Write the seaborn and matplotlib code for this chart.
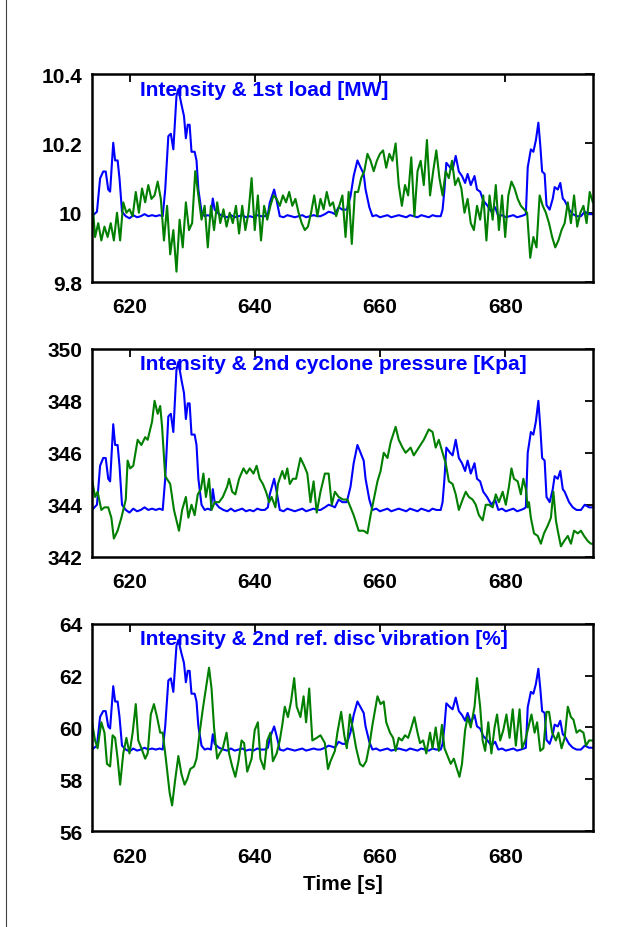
import numpy as np
import pandas as pd
import matplotlib
matplotlib.use("Agg")
import matplotlib.pyplot as plt
import seaborn as sns
from matplotlib.lines import Line2D
from matplotlib.ticker import FuncFormatter

# time stamps of the intensity trace (shared by all panels)
t_int = [614.0, 614.8, 615.3, 615.8, 616.2, 616.6, 616.9, 617.4, 617.7, 618.1,
         618.4, 618.8, 619.4, 620.0, 620.6, 621.2, 621.8, 622.4, 623.0, 623.6,
         624.2, 624.8, 625.3, 625.7, 626.2, 626.6, 627.0, 627.5, 627.8, 628.3,
         628.7, 629.0, 629.3, 629.6, 629.9, 630.4, 630.7, 631.0, 631.5, 632.0,
         632.5, 633.0, 633.3, 633.6, 634.3, 635.0, 635.6, 636.2, 636.8, 637.4,
         638.0, 638.6, 639.2, 639.8, 640.4, 641.0, 641.6, 642.1, 642.4, 643.1,
         643.5, 644.0, 644.6, 645.2, 645.8, 646.4, 647.0, 647.6, 648.2, 648.8,
         649.4, 650.0, 650.5, 651.2, 651.8, 652.4, 652.8, 653.4, 654.0, 654.7,
         655.3, 655.8, 656.4, 656.9, 657.4, 657.7, 658.3, 658.8, 659.4, 660.0,
         660.6, 661.2, 661.8, 662.4, 663.0, 663.6, 664.2, 664.8, 665.4, 666.0,
         666.6, 667.2, 667.8, 668.4, 669.0, 669.7, 670.0, 670.3, 670.6, 671.2,
         671.6, 672.1, 672.6, 673.1, 673.6, 674.0, 674.5, 675.1, 675.5, 676.0,
         676.5, 677.1, 677.8, 678.4, 678.9, 679.5, 680.1, 680.7, 681.3, 681.9,
         682.5, 683.0, 683.3, 683.6, 684.1, 684.5, 684.9, 685.3, 685.6, 685.9,
         686.3, 686.6, 687.1, 687.6, 687.9, 688.4, 688.8, 689.2, 689.5, 690.2,
         690.8, 691.4, 692.1, 692.7, 693.4, 694.0]

# intensity drawn on the load axis [MW]
int_load = [9.990, 10.003, 10.099, 10.119, 10.119, 10.067, 10.061, 10.202, 10.151, 10.151,
            10.099, 10.003, 9.990, 9.984, 9.993, 9.987, 9.990, 9.996, 9.990, 9.993,
            9.990, 9.993, 9.990, 10.067, 10.221, 10.228, 10.183, 10.337, 10.357, 10.312,
            10.279, 10.215, 10.254, 10.254, 10.176, 10.176, 10.151, 10.067, 10.003, 9.990,
            9.993, 9.990, 10.041, 10.009, 9.996, 9.990, 9.987, 9.993, 9.987, 9.990,
            9.993, 9.987, 9.990, 9.987, 9.993, 9.990, 9.990, 9.996, 10.029, 10.067,
            10.035, 9.990, 9.987, 9.993, 9.990, 9.987, 9.990, 9.993, 9.987, 9.990,
            9.993, 9.990, 9.990, 9.996, 10.003, 10.000, 9.996, 10.016, 10.009, 10.009,
            10.048, 10.106, 10.151, 10.131, 10.112, 10.067, 10.016, 9.990, 9.993, 9.987,
            9.990, 9.993, 9.987, 9.990, 9.993, 9.990, 9.987, 9.993, 9.990, 9.987,
            9.993, 9.990, 9.987, 9.993, 9.990, 9.990, 10.009, 10.067, 10.144, 10.131,
            10.125, 10.164, 10.119, 10.106, 10.086, 10.112, 10.080, 10.106, 10.067, 10.061,
            10.035, 10.022, 10.003, 10.016, 9.990, 9.993, 9.987, 9.990, 9.993, 9.987,
            9.990, 9.993, 9.996, 10.131, 10.183, 10.176, 10.209, 10.260, 10.196, 10.119,
            10.112, 10.022, 10.009, 10.041, 10.074, 10.067, 10.086, 10.041, 10.035, 10.009,
            9.996, 9.990, 9.990, 10.003, 9.996, 9.996]

# intensity drawn on the cyclone pressure axis [Kpa]
int_press = [343.8, 344.0, 345.5, 345.8, 345.8, 345.0, 344.9, 347.1, 346.3, 346.3,
             345.5, 344.0, 343.8, 343.7, 343.85, 343.75, 343.8, 343.9, 343.8, 343.85,
             343.8, 343.85, 343.8, 345.0, 347.4, 347.5, 346.8, 349.2, 349.5, 348.8,
             348.3, 347.3, 347.9, 347.9, 346.7, 346.7, 346.3, 345.0, 344.0, 343.8,
             343.85, 343.8, 344.6, 344.1, 343.9, 343.8, 343.75, 343.85, 343.75, 343.8,
             343.85, 343.75, 343.8, 343.75, 343.85, 343.8, 343.8, 343.9, 344.4, 345.0,
             344.5, 343.8, 343.75, 343.85, 343.8, 343.75, 343.8, 343.85, 343.75, 343.8,
             343.85, 343.8, 343.8, 343.9, 344.0, 343.95, 343.9, 344.2, 344.1, 344.1,
             344.7, 345.6, 346.3, 346.0, 345.7, 345.0, 344.2, 343.8, 343.85, 343.75,
             343.8, 343.85, 343.75, 343.8, 343.85, 343.8, 343.75, 343.85, 343.8, 343.75,
             343.85, 343.8, 343.75, 343.85, 343.8, 343.8, 344.1, 345.0, 346.2, 346.0,
             345.9, 346.5, 345.8, 345.6, 345.3, 345.7, 345.2, 345.6, 345.0, 344.9,
             344.5, 344.3, 344.0, 344.2, 343.8, 343.85, 343.75, 343.8, 343.85, 343.75,
             343.8, 343.85, 343.9, 346.0, 346.8, 346.7, 347.2, 348.0, 347.0, 345.8,
             345.7, 344.3, 344.1, 344.6, 345.1, 345.0, 345.3, 344.6, 344.5, 344.1,
             343.9, 343.8, 343.8, 344.0, 343.9, 343.9]

# intensity drawn on the disc vibration axis [%]
int_vib = [59.15, 59.30, 60.41, 60.63, 60.63, 60.04, 59.96, 61.59, 61.00, 61.00,
           60.41, 59.30, 59.15, 59.08, 59.19, 59.11, 59.15, 59.22, 59.15, 59.19,
           59.15, 59.19, 59.15, 60.04, 61.81, 61.89, 61.37, 63.15, 63.37, 62.85,
           62.48, 61.74, 62.18, 62.18, 61.30, 61.30, 61.00, 60.04, 59.30, 59.15,
           59.19, 59.15, 59.74, 59.37, 59.22, 59.15, 59.11, 59.19, 59.11, 59.15,
           59.19, 59.11, 59.15, 59.11, 59.19, 59.15, 59.15, 59.22, 59.59, 60.04,
           59.67, 59.15, 59.11, 59.19, 59.15, 59.11, 59.15, 59.19, 59.11, 59.15,
           59.19, 59.15, 59.15, 59.22, 59.30, 59.26, 59.22, 59.45, 59.37, 59.37,
           59.82, 60.48, 61.00, 60.78, 60.56, 60.04, 59.45, 59.15, 59.19, 59.11,
           59.15, 59.19, 59.11, 59.15, 59.19, 59.15, 59.11, 59.19, 59.15, 59.11,
           59.19, 59.15, 59.11, 59.19, 59.15, 59.15, 59.37, 60.04, 60.93, 60.78,
           60.70, 61.15, 60.63, 60.48, 60.26, 60.56, 60.19, 60.48, 60.04, 59.96,
           59.67, 59.52, 59.30, 59.45, 59.15, 59.19, 59.11, 59.15, 59.19, 59.11,
           59.15, 59.19, 59.22, 60.78, 61.37, 61.30, 61.67, 62.26, 61.52, 60.63,
           60.56, 59.52, 59.37, 59.74, 60.11, 60.04, 60.26, 59.74, 59.67, 59.37,
           59.22, 59.15, 59.15, 59.30, 59.22, 59.22]

# 1st load [MW]
t_load = [614.0, 614.5, 615.0, 615.5, 616.0, 616.5, 617.0, 617.5, 618.0, 618.5,
          619.0, 619.5, 620.0, 620.5, 621.0, 621.5, 622.0, 622.5, 623.0, 623.5,
          624.0, 624.5, 625.0, 625.5, 626.0, 626.5, 627.0, 627.5, 628.0, 628.5,
          629.0, 629.5, 630.0, 630.5, 631.0, 631.5, 632.0, 632.5, 633.0, 633.5,
          634.0, 634.5, 635.0, 635.5, 636.0, 636.5, 637.0, 637.5, 638.0, 638.5,
          639.0, 639.5, 640.0, 640.5, 641.0, 641.5, 642.0, 642.5, 643.0, 643.5,
          644.0, 644.5, 645.0, 645.5, 646.0, 646.5, 647.0, 647.5, 648.0, 648.5,
          649.0, 649.5, 650.0, 650.5, 651.0, 651.5, 652.0, 652.5, 653.0, 653.5,
          654.0, 654.5, 655.0, 655.5, 656.0, 656.5, 657.0, 657.5, 658.0, 658.5,
          659.0, 659.5, 660.0, 660.5, 661.0, 661.5, 662.0, 662.5, 663.0, 663.5,
          664.0, 664.5, 665.0, 665.5, 666.0, 666.5, 667.0, 667.5, 668.0, 668.5,
          669.0, 669.5, 670.0, 670.5, 671.0, 671.5, 672.0, 672.5, 673.0, 673.5,
          674.0, 674.5, 675.0, 675.5, 676.0, 676.5, 677.0, 677.5, 678.0, 678.5,
          679.0, 679.5, 680.0, 680.5, 681.0, 681.5, 682.0, 682.5, 683.0, 683.5,
          684.0, 684.5, 685.0, 685.5, 686.0, 686.5, 687.0, 687.5, 688.0, 688.5,
          689.0, 689.5, 690.0, 690.5, 691.0, 691.5, 692.0, 692.5, 693.0, 693.5,
          694.0]
load = [10.05, 9.93, 9.97, 9.92, 9.96, 9.93, 9.97, 9.92, 10.00, 9.92,
        10.03, 10.00, 10.01, 9.99, 10.06, 10.00, 10.07, 10.03, 10.08, 10.04,
        10.05, 10.09, 10.04, 9.92, 10.02, 9.88, 9.95, 9.83, 9.98, 9.90,
        10.03, 9.95, 9.97, 10.12, 10.05, 9.98, 10.02, 9.90, 10.02, 9.95,
        10.03, 9.97, 10.01, 9.96, 10.00, 9.97, 10.02, 9.94, 10.02, 9.95,
        10.00, 10.10, 9.95, 10.05, 9.92, 10.02, 9.98, 10.02, 10.05, 10.04,
        10.02, 10.05, 10.03, 10.06, 10.02, 10.04, 10.00, 9.97, 9.95, 9.96,
        10.00, 10.05, 9.99, 10.04, 10.01, 10.06, 10.02, 10.03, 9.99, 10.02,
        10.05, 9.93, 10.06, 9.91, 10.06, 10.06, 10.10, 10.12, 10.17, 10.15,
        10.12, 10.15, 10.17, 10.18, 10.13, 10.17, 10.15, 10.20, 10.08, 10.02,
        10.08, 10.05, 10.16, 9.99, 10.12, 10.15, 10.08, 10.21, 10.05, 10.12,
        10.18, 10.10, 10.05, 10.12, 10.10, 10.15, 10.08, 10.10, 10.07, 10.00,
        10.04, 9.97, 9.95, 10.02, 9.98, 10.05, 9.92, 10.05, 9.98, 10.08,
        9.95, 10.05, 9.93, 10.05, 10.09, 10.07, 10.04, 10.02, 10.01, 10.00,
        9.87, 9.93, 9.90, 10.05, 10.02, 10.00, 9.97, 9.93, 9.90, 9.92,
        9.95, 9.97, 10.03, 9.97, 10.05, 9.96, 10.00, 10.02, 9.97, 10.06,
        10.03]

# 2nd cyclone pressure [Kpa]
t_press = [614.0, 614.5, 614.9, 615.5, 616.0, 616.6, 617.1, 617.5, 618.1, 618.7,
           619.4, 619.7, 620.1, 620.6, 621.3, 621.9, 622.5, 622.9, 623.6, 624.0,
           624.5, 624.9, 625.2, 625.7, 626.5, 627.1, 627.9, 628.4, 629.0, 629.4,
           629.9, 630.4, 630.9, 631.4, 631.8, 632.2, 632.7, 633.1, 633.6, 634.3,
           634.9, 635.6, 635.9, 636.4, 636.9, 637.5, 638.2, 638.7, 639.2, 639.8,
           640.3, 640.8, 641.3, 641.8, 642.3, 642.7, 643.3, 643.7, 644.4, 644.8,
           645.2, 645.6, 646.1, 646.6, 647.3, 647.9, 648.4, 648.9, 649.4, 649.9,
           650.5, 651.2, 651.8, 652.3, 652.8, 653.4, 654.1, 654.8, 655.3, 655.8,
           656.6, 657.4, 658.0, 658.5, 659.0, 659.6, 660.1, 660.6, 661.2, 661.7,
           662.5, 663.0, 663.6, 664.1, 664.9, 665.4, 666.2, 667.0, 667.8, 668.4,
           668.9, 669.4, 670.0, 670.5, 671.0, 671.6, 672.1, 672.6, 673.2, 673.7,
           674.2, 674.8, 675.3, 675.8, 676.4, 676.9, 677.4, 678.0, 678.5, 679.0,
           679.6, 680.1, 680.6, 681.0, 681.4, 682.0, 682.5, 682.9, 683.3, 683.6,
           683.8, 684.1, 684.6, 685.2, 685.7, 686.2, 686.8, 687.3, 687.7, 688.1,
           688.4, 688.9, 689.4, 690.0, 690.5, 691.0, 691.6, 692.1, 692.6, 693.2,
           693.7, 694.0]
press = [345.0, 344.3, 344.5, 343.8, 343.9, 343.9, 343.5, 342.7, 343.0, 343.5,
         344.2, 345.7, 345.4, 345.5, 346.5, 346.3, 346.6, 346.5, 347.2, 348.0,
         347.5, 347.8, 347.0, 345.1, 344.8, 343.8, 343.0, 343.8, 344.3, 343.5,
         344.0, 343.6, 344.4, 344.6, 345.2, 344.3, 345.0, 343.8, 344.1, 344.1,
         344.3, 344.7, 345.0, 344.5, 344.4, 345.0, 345.4, 345.2, 345.4, 345.2,
         345.5, 345.0, 344.8, 344.5, 344.1, 344.3, 343.9, 344.8, 345.3, 345.0,
         345.4, 344.8, 345.0, 345.0, 345.8, 345.5, 345.2, 344.1, 344.9, 343.7,
         344.5, 345.2, 345.2, 344.0, 344.5, 344.3, 344.2, 344.2, 343.9, 343.6,
         343.0, 343.0, 342.9, 343.6, 344.2, 344.9, 345.3, 346.0, 345.8, 346.4,
         347.0, 346.5, 346.2, 346.0, 346.2, 345.9, 346.2, 346.5, 346.9, 346.8,
         346.2, 346.5, 346.0, 345.6, 344.9, 344.8, 344.4, 343.8, 344.2, 344.5,
         344.3, 344.2, 344.0, 343.6, 343.4, 344.0, 344.0, 343.9, 344.4, 344.1,
         344.5, 344.0, 344.7, 345.4, 345.0, 344.9, 344.4, 345.0, 344.6, 343.9,
         344.1, 343.5, 342.9, 342.8, 342.5, 342.9, 343.2, 343.5, 344.5, 343.4,
         343.0, 342.4, 342.6, 342.8, 342.5, 343.0, 342.9, 343.0, 342.8, 342.6,
         342.5, 342.5]

# 2nd ref. disc vibration [%]
t_vib = [614.0, 614.5, 614.9, 615.5, 616.0, 616.4, 616.9, 617.3, 617.7, 618.1,
         618.5, 619.0, 619.5, 620.0, 620.5, 621.0, 621.4, 621.9, 622.5, 622.9,
         623.4, 623.9, 624.4, 624.9, 625.3, 625.8, 626.4, 626.8, 627.3, 627.8,
         628.3, 628.8, 629.2, 629.7, 630.3, 630.7, 631.2, 631.7, 632.2, 632.7,
         633.1, 633.5, 634.0, 634.4, 634.9, 635.5, 635.9, 636.4, 636.9, 637.4,
         637.9, 638.3, 638.8, 639.5, 640.0, 640.5, 640.9, 641.5, 642.0, 642.5,
         642.9, 643.5, 644.0, 644.4, 644.8, 645.3, 645.8, 646.3, 646.7, 647.3,
         647.8, 648.2, 648.7, 649.2, 649.9, 650.5, 651.2, 651.7, 652.1, 652.8,
         653.2, 653.8, 654.3, 654.7, 655.2, 655.7, 656.2, 656.8, 657.3, 657.8,
         658.3, 658.8, 659.3, 659.6, 660.1, 660.6, 661.0, 661.6, 662.1, 662.5,
         663.0, 663.5, 664.0, 664.5, 664.9, 665.5, 666.0, 666.4, 666.9, 667.4,
         668.0, 668.4, 668.9, 669.4, 669.9, 670.3, 670.8, 671.3, 671.8, 672.3,
         672.7, 673.1, 673.6, 674.0, 674.5, 675.1, 675.5, 676.0, 676.4, 676.8,
         677.3, 677.8, 678.3, 678.7, 679.2, 679.7, 680.2, 680.7, 681.2, 681.7,
         682.3, 682.7, 683.2, 683.7, 684.2, 684.7, 685.1, 685.6, 686.1, 686.6,
         687.0, 687.5, 688.1, 688.5, 689.0, 689.5, 690.0, 690.5, 690.9, 691.4,
         691.9, 692.5, 692.9, 693.4, 694.0]
vib = [60.2, 59.5, 59.2, 60.2, 59.8, 58.6, 58.5, 59.7, 59.6, 58.8,
       57.8, 59.0, 59.6, 59.0, 59.8, 60.9, 59.5, 59.2, 58.8, 59.0,
       60.5, 60.9, 60.4, 59.8, 59.8, 58.8, 57.5, 57.0, 58.0, 58.9,
       58.2, 57.8, 58.0, 58.4, 58.5, 58.8, 59.8, 60.7, 61.5, 62.3,
       61.5, 60.0, 58.8, 59.0, 59.2, 59.8, 59.0, 58.5, 58.1, 58.7,
       59.5, 59.4, 58.3, 58.8, 59.9, 60.2, 58.8, 58.4, 59.5, 59.8,
       58.7, 59.0, 59.5, 60.1, 60.8, 60.4, 61.0, 61.9, 60.8, 60.4,
       61.2, 60.2, 61.5, 59.5, 59.6, 59.7, 59.4, 58.4, 58.7, 59.1,
       59.8, 60.6, 59.7, 59.2, 60.5, 59.9, 59.2, 58.6, 58.5, 58.7,
       59.3, 60.1, 60.8, 61.2, 60.9, 61.0, 60.2, 59.8, 59.6, 59.1,
       59.6, 59.5, 59.7, 59.6, 59.9, 60.4, 59.8, 59.4, 59.5, 59.0,
       59.8, 59.2, 60.0, 59.1, 60.1, 59.2, 58.9, 58.6, 58.8, 58.4,
       58.1, 58.6, 59.9, 60.4, 60.0, 60.8, 61.9, 60.8, 59.5, 59.1,
       60.2, 59.0, 60.0, 60.5, 59.5, 59.9, 60.5, 59.6, 60.7, 59.3,
       60.7, 59.2, 59.5, 60.0, 60.5, 59.8, 60.2, 59.1, 59.2, 60.6,
       60.6, 59.8, 59.5, 59.8, 59.2, 59.6, 60.8, 60.4, 60.3, 59.8,
       59.9, 59.8, 59.3, 59.5, 59.5]

titles = ["Intensity & 1st load [MW]",
          "Intensity & 2nd cyclone pressure [Kpa]",
          "Intensity & 2nd ref. disc vibration [%]"]
y_limits = [(9.8, 10.4), (342, 350), (56, 64)]
y_ticks = [[9.8, 10.0, 10.2, 10.4], [342, 344, 346, 348, 350], [56, 58, 60, 62, 64]]
x_ticks = [620, 640, 660, 680]

panels = [
    (pd.DataFrame({"t": t_int, "v": int_load}), pd.DataFrame({"t": t_load, "v": load})),
    (pd.DataFrame({"t": t_int, "v": int_press}), pd.DataFrame({"t": t_press, "v": press})),
    (pd.DataFrame({"t": t_int, "v": int_vib}), pd.DataFrame({"t": t_vib, "v": vib})),
]

sns.set_style("white")
plt.rcParams["font.family"] = ["Liberation Sans", "DejaVu Sans"]
plt.rcParams["font.weight"] = "bold"

fig = plt.figure(figsize=(6.43, 9.28), dpi=100)
bottoms = [0.695, 0.399, 0.103]

for i, (blue_df, green_df) in enumerate(panels):
    ax = fig.add_axes([0.143, bottoms[i], 0.779, 0.224])
    sns.lineplot(data=blue_df, x="t", y="v", color="#0000ff", lw=1.5,
                 estimator=None, sort=False, ax=ax)
    sns.lineplot(data=green_df, x="t", y="v", color="#007f00", lw=1.5,
                 estimator=None, sort=False, ax=ax)
    ax.set_xlim(614, 694)
    ax.set_ylim(*y_limits[i])
    ax.set_xticks(x_ticks)
    ax.set_yticks(y_ticks[i])
    ax.yaxis.set_major_formatter(FuncFormatter(lambda v, p: "%g" % round(v, 2)))
    ax.tick_params(direction="in", length=6, width=1.3, top=True, right=True,
                   labelsize=15, pad=7, colors="black")
    ax.tick_params(axis="x", pad=11)
    for lab in ax.get_xticklabels() + ax.get_yticklabels():
        lab.set_fontweight("bold")
    for sp in ax.spines.values():
        sp.set_linewidth(1.8)
        sp.set_color("black")
    ax.set_xlabel("")
    ax.set_ylabel("")
    ax.text(0.096, 0.928, titles[i], transform=ax.transAxes, color="#0000ff",
            fontsize=15, fontweight="bold", ha="left", va="center")

ax.set_xlabel("Time [s]", fontsize=15, fontweight="bold", color="black", labelpad=6)

# thin page border on the left
fig.add_artist(Line2D([6 / 643, 6 / 643], [0, 1], color="#444444", lw=0.8))

fig.savefig("out.png", dpi=100)
